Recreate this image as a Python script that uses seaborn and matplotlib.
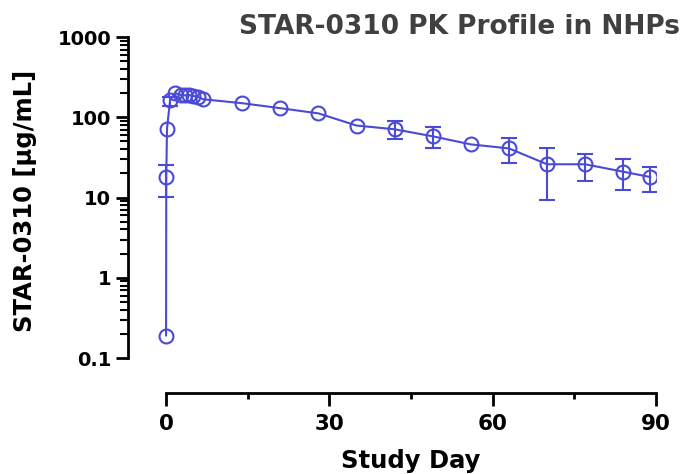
import numpy as np
import pandas as pd
import matplotlib
matplotlib.use("Agg")
import matplotlib.pyplot as plt
from matplotlib import ticker
import seaborn as sns

# mean concentration per study day
days = [0, 0.04, 0.17, 0.75, 1.65, 2.75, 3.5, 4.25, 5, 5.9, 6.8,
        14, 21, 28, 35, 42, 49, 56, 63, 70, 77, 84, 89]
conc = [0.19, 18, 72, 165, 200, 190, 188, 190, 185, 180, 168,
        150, 130, 112, 79, 71, 58, 46, 41, 26, 26, 21, 18]

# points that show error bars: lower / upper ends
err_days = [0.04, 0.75, 42, 49, 63, 70, 77, 84, 89]
err_mean = [18, 165, 71, 58, 41, 26, 26, 21, 18]
err_low = [10.2, 138, 53, 42, 27, 9.2, 16, 12.6, 11.9]
err_high = [25.5, 180, 89, 75, 55, 42, 35, 30, 24]

df = pd.DataFrame({"day": days, "conc": conc})
blue = "#4A4AD6"

sns.set_style("ticks")
plt.rcParams["font.family"] = ["DejaVu Sans"]
plt.rcParams["font.weight"] = "bold"
for key in ["text.color", "axes.labelcolor", "xtick.color", "ytick.color"]:
    plt.rcParams[key] = "black"

fig = plt.figure(figsize=(6.88, 4.74), dpi=100)
ax = fig.add_axes([0.186, 0.2447, 0.7674, 0.677])

# error bars first so circles sit on top
yerr = np.array([np.array(err_mean) - np.array(err_low),
                 np.array(err_high) - np.array(err_mean)])
ax.errorbar(err_days, err_mean, yerr=yerr, fmt="none", ecolor=blue,
            elinewidth=1.5, capsize=6, capthick=1.5, zorder=2)

sns.lineplot(data=df, x="day", y="conc", ax=ax, color=blue, linewidth=1.5,
             marker="o", markersize=10, markerfacecolor="none",
             markeredgecolor=blue, markeredgewidth=1.5, zorder=3)

ax.set_yscale("log")
ax.set_ylim(0.1, 1000)
ax.set_xlim(-7, 90)
ax.yaxis.set_major_locator(ticker.FixedLocator([0.1, 1, 10, 100, 1000]))
ax.yaxis.set_major_formatter(ticker.FixedFormatter(["0.1", "1", "10", "100", "1000"]))
ax.yaxis.set_minor_locator(ticker.LogLocator(base=10, subs=np.arange(2, 10)))
ax.yaxis.set_minor_formatter(ticker.NullFormatter())
ax.xaxis.set_major_locator(ticker.FixedLocator([0, 30, 60, 90]))
ax.xaxis.set_minor_locator(ticker.FixedLocator([15, 45, 75]))

sns.despine(ax=ax)
ax.spines["bottom"].set_position(("outward", 25))
ax.spines["bottom"].set_bounds(0, 90)
for s in ["left", "bottom"]:
    ax.spines[s].set_linewidth(2)
    ax.spines[s].set_color("black")

ax.tick_params(axis="x", which="major", length=9, width=2, pad=6, labelsize=15.5)
ax.tick_params(axis="x", which="minor", length=4.5, width=2)
ax.tick_params(axis="y", which="major", length=9, width=2, pad=3, labelsize=14)
ax.tick_params(axis="y", which="minor", length=5.5, width=1.5)
for lab in ax.get_xticklabels() + ax.get_yticklabels():
    lab.set_fontweight("bold")

ax.set_xlabel("Study Day", fontsize=17.5, fontweight="bold")
ax.set_ylabel("STAR-0310 [µg/mL]", fontsize=17.5, fontweight="bold")
ax.xaxis.set_label_coords(0.536, -0.285)
ax.yaxis.set_label_coords(-0.172, 0.49)

fig.text(0.988, 1 - 27 / 474, "STAR-0310 PK Profile in NHPs", ha="right",
         va="center", fontsize=19, fontweight="bold", color="#404040")

fig.savefig("out.png", dpi=100)
